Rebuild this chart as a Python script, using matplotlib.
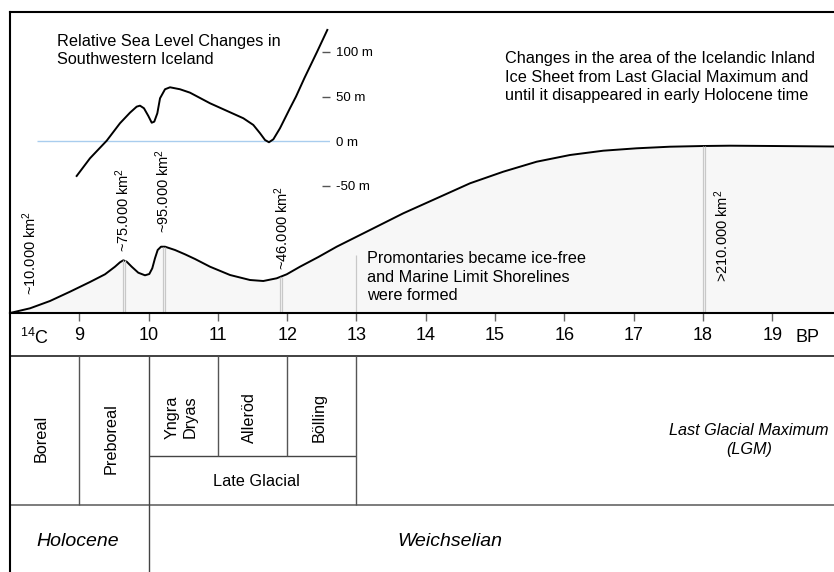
import matplotlib.pyplot as plt

plt.rcParams['font.family'] = ['Liberation Sans', 'DejaVu Sans']
plt.rcParams['mathtext.default'] = 'regular'

# ice sheet area through time (14C ka BP, relative height of curve)
ice_age = [8.0, 8.289, 8.577, 8.866, 9.154, 9.371, 9.515, 9.587, 9.635, 9.684,
           9.756, 9.851, 9.948, 10.010, 10.053, 10.092, 10.131, 10.179, 10.237,
           10.381, 10.525, 10.670, 10.886, 11.175, 11.463, 11.655, 11.848, 11.993,
           12.185, 12.45, 12.714, 13.195, 13.675, 14.157, 14.638, 15.118, 15.600,
           16.081, 16.561, 17.043, 17.524, 18.004, 18.390, 19.0, 19.89]
ice_h = [0, 4.7, 12, 21.3, 31, 38.7, 46.3, 50.7, 52.7, 51.3,
         46.3, 40.3, 37.7, 39, 44.7, 54.7, 63, 66.3, 66.3,
         63, 58.7, 54, 46.3, 38, 33, 32, 34.7, 38.7,
         46.3, 56, 66.3, 83, 99.7, 114.7, 129.7, 141.3, 151.3,
         158, 162.3, 164.7, 166.3, 167, 167.3, 167, 166.5]

# relative sea level, SW Iceland (m)
sl_age = [8.962, 9.154, 9.395, 9.587, 9.732, 9.828, 9.876, 9.933, 9.996, 10.045,
          10.082, 10.126, 10.165, 10.237, 10.309, 10.453, 10.597, 10.886, 11.175,
          11.367, 11.511, 11.608, 11.680, 11.737, 11.800, 11.896, 12.040, 12.127,
          12.25, 12.43, 12.579]
sl_m = [-39, -19.2, 0.5, 20.1, 32.0, 38.7, 39.8, 36.9, 28.3, 20.7,
        21.9, 31.3, 48.1, 58.2, 60.4, 58.2, 54.4, 42.5, 32.4,
        25.7, 18.2, 8.9, 1.3, -1.2, 2.1, 14.5, 36.9, 50,
        71, 100, 124.7]
sl_ticks = [100, 50, 0, -50]

area_labels = ['~10.000 km$^2$', '~75.000 km$^2$', '~95.000 km$^2$',
               '~46.000 km$^2$', '>210.000 km$^2$']
label_age = [8.289, 9.631, 10.208, 11.925, 18.274]
label_h = [18, 61, 80, 43, 31]

marker_age = [9.641, 10.219, 11.911, 18.017]
marker_h = [52.7, 66.3, 36, 167]

ages = list(range(9, 20))

W, H = 834, 572
PX = 69.3  # pixels per ka
XMAX = 8 + 824 / PX

fig = plt.figure(figsize=(W / 100, H / 100), dpi=100)

# ---- ice sheet panel
ax = fig.add_axes([10 / W, 1 - 313 / H, 824 / W, 301 / H])
ax.set_xlim(8.0, XMAX)
ax.set_ylim(0, 301)
ax.fill_between(ice_age, 0, ice_h, color='#f7f7f7', lw=0)
ax.plot(ice_age, ice_h, color='black', lw=1.4)
for a, h in zip(marker_age, marker_h):
    ax.vlines([a - 0.016, a + 0.016], 0, h, color='#c8c8c8', lw=0.9)
ax.vlines(13.0, 0, 58, color='#c8c8c8', lw=0.9)
for s, a, h in zip(area_labels, label_age, label_h):
    ax.text(a, h, s, rotation=90, ha='center', va='bottom', fontsize=10.5)

ax.spines['right'].set_visible(False)
for side in ['top', 'left', 'bottom']:
    ax.spines[side].set_linewidth(1.5)
ax.set_yticks([])
ax.set_xticks(ages)
ax.tick_params(axis='x', direction='out', length=5.8, width=1, color='#666666',
               labelsize=13, pad=4)

ax.text(8 + 47 / PX, 313 - 34, 'Relative Sea Level Changes in\nSouthwestern Iceland',
        fontsize=11.7, va='top', ha='left', linespacing=1.25)
ax.text(8 + 494.7 / PX, 313 - 51, 'Changes in the area of the Icelandic Inland\n'
        'Ice Sheet from Last Glacial Maximum and\nuntil it disappeared in early Holocene time',
        fontsize=11.7, va='top', ha='left', linespacing=1.3)
ax.text(8 + 356.7 / PX, 313 - 251, 'Promontaries became ice-free\nand Marine Limit Shorelines\nwere formed',
        fontsize=11.7, va='top', ha='left', linespacing=1.3)

# ---- sea level inset
ax2 = fig.add_axes([10 / W, 1 - 313 / H, 320 / W, 301 / H], facecolor='none')
ax2.set_xlim(8.0, 8 + 320 / PX)
ax2.set_ylim(-192.6, 144.8)
for sp in ax2.spines.values():
    sp.set_visible(False)
ax2.set_xticks([])
ax2.yaxis.tick_right()
ax2.set_yticks(sl_ticks, labels=[f'{v} m' for v in sl_ticks])
ax2.tick_params(axis='y', direction='in', length=5.8, width=1, color='#555555',
                pad=4.3, labelsize=9.5)
for t in ax2.yaxis.get_major_ticks():
    if t.get_loc() == 0:
        t.tick2line.set_visible(False)
ax2.hlines(0, 8.39, 8 + 320 / PX, color='#a9cdee', lw=1)
ax2.plot(sl_age, sl_m, color='black', lw=1.4)

# ---- chronology table
tb = fig.add_axes([10 / W, 0, 824 / W, 259 / H], facecolor='none')
tb.set_xlim(8.0, XMAX)
tb.set_ylim(572, 313)
for side in ['top', 'right', 'bottom']:
    tb.spines[side].set_visible(False)
tb.spines['left'].set_linewidth(1.5)
tb.set_xticks([])
tb.set_yticks([])

tb.hlines(356, 8.0, XMAX, color='#333333', lw=1.3)
tb.hlines(505, 8.0, XMAX, color='#666666', lw=1.2)
tb.hlines(456, 10, 13, color='#444444', lw=1)
tb.vlines([9, 13], 356, 505, color='#555555', lw=1)
tb.vlines([11, 12], 356, 456, color='#555555', lw=1)
tb.vlines(10, 356, 572, color='#444444', lw=1)

tb.text(8 + 10 / PX, 338, '$^{14}$C', fontsize=13, ha='left', va='center')
tb.text(19.515, 338, 'BP', fontsize=13, ha='center', va='center')

tb.text(8.45, 438, 'Boreal', rotation=90, fontsize=11.7, ha='center', va='center')
tb.text(9.46, 439, 'Preboreal', rotation=90, fontsize=11.7, ha='center', va='center')
tb.text(10.47, 417, 'Yngra\nDryas', rotation=90, fontsize=11.7, ha='center', va='center',
        multialignment='center', linespacing=1.2)
tb.text(11.46, 418, 'Alleröd', rotation=90, fontsize=11.7, ha='center', va='center')
tb.text(12.46, 418, 'Bölling', rotation=90, fontsize=11.7, ha='center', va='center')
tb.text(11.55, 481, 'Late Glacial', fontsize=11.7, ha='center', va='center')
tb.text(18.66, 440, 'Last Glacial Maximum\n(LGM)', fontsize=11.7, ha='center', va='center',
        style='italic', multialignment='center', linespacing=1.3)
tb.text(8.97, 541, 'Holocene', fontsize=14, ha='center', va='center', style='italic')
tb.text(14.35, 541, 'Weichselian', fontsize=14, ha='center', va='center', style='italic')

fig.savefig('out.png', dpi=100)
